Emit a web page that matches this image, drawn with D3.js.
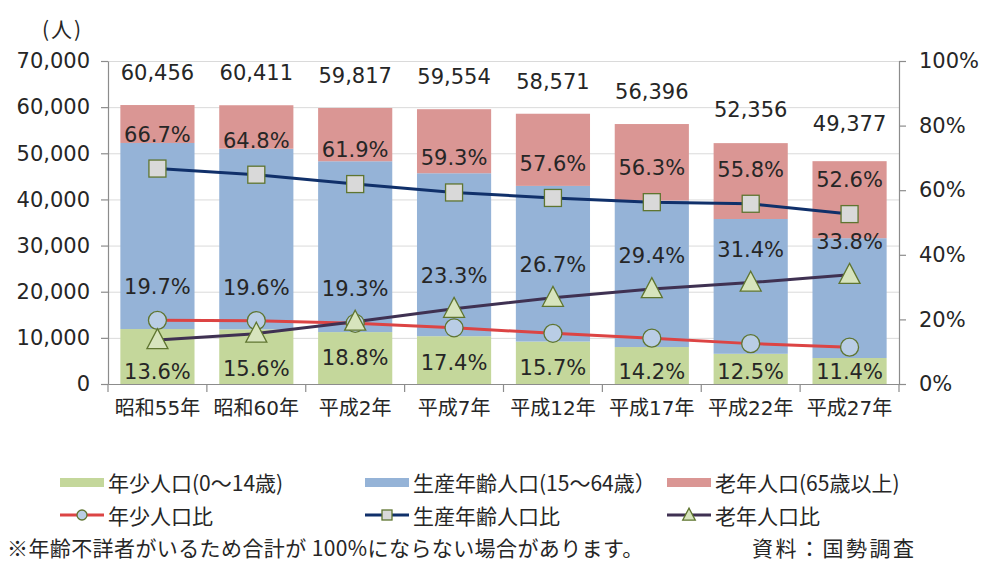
<!DOCTYPE html>
<html><head><meta charset="utf-8">
<script src="https://cdn.jsdelivr.net/npm/d3@7"></script>
<style>
html,body{margin:0;padding:0;background:#fff;}
svg{display:block;}
</style></head>
<body>
<svg id="chart" width="981" height="563"></svg>
<script>
// ---- data ----
const categories = ["昭和55年","昭和60年","平成2年","平成7年","平成12年","平成17年","平成22年","平成27年"];
const totals     = [60456, 60411, 59817, 59554, 58571, 56396, 52356, 49377];
const youngPop   = [11910, 11841, 11246, 10362, 9196, 8008, 6545, 5629];
const prodPop    = [40324, 39146, 37027, 35316, 33737, 31751, 29215, 25972];
const elderPop   = [8222, 9424, 11545, 13876, 15638, 16580, 16440, 16689];
const youngRatio = [19.7, 19.6, 18.8, 17.4, 15.7, 14.2, 12.5, 11.4];
const prodRatio  = [66.7, 64.8, 61.9, 59.3, 57.6, 56.3, 55.8, 52.6];
const elderRatio = [13.6, 15.6, 19.3, 23.3, 26.7, 29.4, 31.4, 33.8];
const leftTicks  = [0, 10000, 20000, 30000, 40000, 50000, 60000, 70000];
const rightTicks = [0, 20, 40, 60, 80, 100];
const barSeriesNames  = ["年少人口(0～14歳)", "生産年齢人口(15～64歳）", "老年人口(65歳以上)"];
const lineSeriesNames = ["年少人口比", "生産年齢人口比", "老年人口比"];
const unitLabel = "(人)";
const footnote = "※年齢不詳者がいるため合計が 100%にならない場合があります。";
const sourceNote = "資料：国勢調査";

// ---- styles ----
const barColors  = ["#C4D79B", "#95B3D7", "#DA9694"];
const lineColors = ["#DC4444", "#10306A", "#3F3152"];
const markerFill = ["#B9CDE5", "#D9D9D9", "#D7E4BD"];
const markerStroke = "#5F7530";
const numFont = "'DejaVu Sans', 'Noto Sans CJK JP', sans-serif";
const jpFont = "'Noto Sans CJK JP', sans-serif";
const textColor = "#262626";

const svg = d3.select("#chart");
const L = 108, R = 899, T = 61, B = 384;

const x = d3.scaleBand().domain(categories).range([L, R]).paddingInner(0.25).paddingOuter(0.125);
const yL = d3.scaleLinear().domain([0, 70000]).range([B, T]);
const yR = d3.scaleLinear().domain([0, 100]).range([B, T]);

// gridlines
svg.append("g").selectAll("line").data(leftTicks.filter(d => d > 0)).join("line")
  .attr("x1", L).attr("x2", R).attr("y1", d => yL(d) + 0.5).attr("y2", d => yL(d) + 0.5)
  .attr("stroke", "#DADADA").attr("stroke-width", 1);

// stacked bars
const rows = categories.map((c, i) => ({cat: c, a: youngPop[i], b: prodPop[i], c2: elderPop[i]}));
const stack = d3.stack().keys(["a", "b", "c2"]);
const stacked = stack(rows);
svg.append("g").selectAll("g").data(stacked).join("g")
  .attr("fill", (d, i) => barColors[i])
  .selectAll("rect").data(d => d).join("rect")
  .attr("x", d => x(d.data.cat))
  .attr("width", x.bandwidth())
  .attr("y", d => yL(d[1]))
  .attr("height", d => yL(d[0]) - yL(d[1]));

// axes
function styleAxis(g) {
  g.selectAll(".domain").attr("stroke", "#8C8C8C").attr("stroke-width", 1.2);
  g.selectAll(".tick line").attr("stroke", "#8C8C8C").attr("stroke-width", 1.2);
  g.selectAll("text").attr("fill", textColor).attr("font-family", numFont).attr("font-size", 21);
}
svg.append("g").attr("transform", `translate(${L},0)`)
  .call(d3.axisLeft(yL).tickValues(leftTicks).tickSize(7).tickSizeOuter(0).tickPadding(11).tickFormat(d3.format(",")))
  .call(styleAxis);
svg.append("g").attr("transform", `translate(${R},0)`)
  .call(d3.axisRight(yR).tickValues(rightTicks).tickSize(7).tickSizeOuter(0).tickPadding(13).tickFormat(d => d + "%"))
  .call(styleAxis);
const xAxis = svg.append("g").attr("transform", `translate(0,${B})`)
  .call(d3.axisBottom(x).tickSize(0).tickSizeOuter(0).tickPadding(19))
  .call(styleAxis);
xAxis.selectAll("text").attr("font-size", 20).attr("dy", "0.6em");
// category boundary ticks
const bounds = categories.map(c => x(c) - x.step() * x.paddingInner() / 2).concat([R]);
xAxis.append("g").selectAll("line").data(bounds).join("line")
  .attr("x1", d => d).attr("x2", d => d).attr("y1", 0).attr("y2", 8)
  .attr("stroke", "#8C8C8C").attr("stroke-width", 1.2);

// lines
const ratioSets = [youngRatio, prodRatio, elderRatio];
const cx = c => x(c) + x.bandwidth() / 2;
const lineGen = d3.line().x((d, i) => cx(categories[i])).y(d => yR(d));
ratioSets.forEach((s, k) => {
  svg.append("path").datum(s).attr("d", lineGen).attr("fill", "none")
    .attr("stroke", lineColors[k]).attr("stroke-width", 3);
});

function drawMarker(g, k, px, py, size) {
  if (k === 0) {
    g.append("circle").attr("cx", px).attr("cy", py).attr("r", size)
      .attr("fill", markerFill[0]).attr("stroke", markerStroke).attr("stroke-width", 1.3);
  } else if (k === 1) {
    g.append("rect").attr("x", px - size).attr("y", py - size).attr("width", size * 2).attr("height", size * 2)
      .attr("fill", markerFill[1]).attr("stroke", markerStroke).attr("stroke-width", 1.3);
  } else {
    const h = size * 1.9;
    g.append("path").attr("d", `M${px},${py - h * 0.6}L${px + size * 1.05},${py + h * 0.45}L${px - size * 1.05},${py + h * 0.45}Z`)
      .attr("fill", markerFill[2]).attr("stroke", markerStroke).attr("stroke-width", 1.3);
  }
}
const mg = svg.append("g");
ratioSets.forEach((s, k) => {
  s.forEach((v, i) => drawMarker(mg, k, cx(categories[i]), yR(v), k === 0 ? 9 : (k === 1 ? 8.5 : 10)));
});

// labels
const pct = d => d3.format(".1f")(d) + "%";
const lg = svg.append("g").attr("font-family", numFont).attr("font-size", 21).attr("fill", textColor)
  .attr("text-anchor", "middle").attr("dominant-baseline", "central");
categories.forEach((c, i) => {
  const px = cx(c);
  lg.append("text").attr("x", px).attr("y", yL(totals[i]) - 32).text(d3.format(",")(totals[i]));
  lg.append("text").attr("x", px).attr("y", yR(prodRatio[i]) - 34).text(pct(prodRatio[i]));
  const hi = Math.max(youngRatio[i], elderRatio[i]);
  const lo = Math.min(youngRatio[i], elderRatio[i]);
  lg.append("text").attr("x", px).attr("y", yR(hi) - 33).text(pct(hi));
  lg.append("text").attr("x", px).attr("y", Math.min(yR(lo) + 35, 372)).text(pct(lo));
});

// unit label
svg.append("text").attr("x", 42).attr("y", 28).attr("dominant-baseline", "central")
  .attr("font-family", jpFont).attr("font-size", 21).attr("letter-spacing", 2).attr("fill", textColor).text(unitLabel);

// legend
const legX = [60, 365, 667];
const swW = 44;
const leg = svg.append("g").attr("font-family", jpFont).attr("font-size", 21).attr("fill", textColor);
barSeriesNames.forEach((n, k) => {
  leg.append("rect").attr("x", legX[k]).attr("y", 478).attr("width", swW).attr("height", 9).attr("fill", barColors[k]);
  leg.append("text").attr("x", legX[k] + swW + 4).attr("y", 482).attr("dominant-baseline", "central").text(n);
});
lineSeriesNames.forEach((n, k) => {
  leg.append("line").attr("x1", legX[k]).attr("x2", legX[k] + swW).attr("y1", 515).attr("y2", 515)
    .attr("stroke", lineColors[k]).attr("stroke-width", 3);
  drawMarker(leg, k, legX[k] + swW / 2, 515, k === 2 ? 6 : 5);
  leg.append("text").attr("x", legX[k] + swW + 4).attr("y", 515).attr("dominant-baseline", "central").text(n);
});

// notes
svg.append("text").attr("x", 7).attr("y", 547).attr("dominant-baseline", "central")
  .attr("font-family", jpFont).attr("font-size", 21).attr("letter-spacing", 0.4).attr("fill", textColor).text(footnote);
svg.append("text").attr("x", 752).attr("y", 547).attr("dominant-baseline", "central")
  .attr("font-family", jpFont).attr("font-size", 21).attr("letter-spacing", 2.5).attr("fill", textColor).text(sourceNote);
</script>
</body></html>
